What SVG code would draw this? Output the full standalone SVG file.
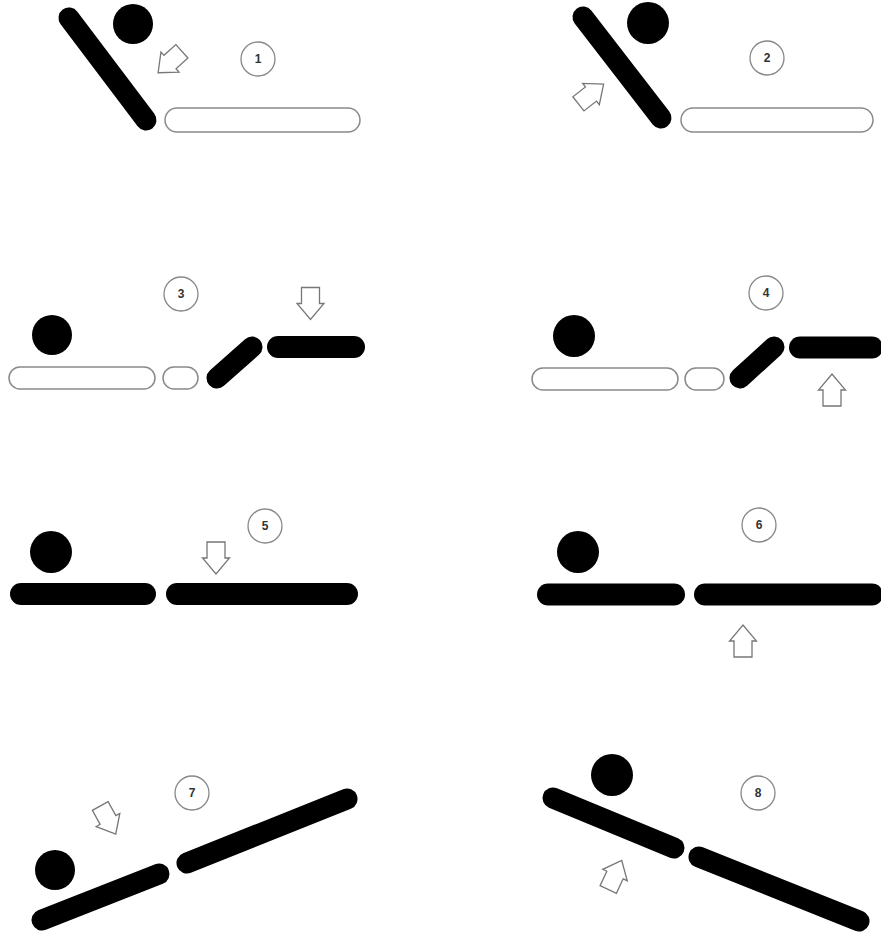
<svg xmlns="http://www.w3.org/2000/svg" xmlns:xlink="http://www.w3.org/1999/xlink" width="881" height="936" viewBox="0 0 881 936">
<style>
.bar{stroke:#000;stroke-linecap:round;fill:none}
.d{stroke-width:21}
.h{stroke-width:22}
.ball{fill:#000}
.pad{fill:#fff;stroke:#8a8a8a;stroke-width:1.5}
.num circle{fill:#fff;stroke:#888;stroke-width:1.3}
.num text{font-family:"Liberation Sans",Arial,sans-serif;font-size:12px;font-weight:bold;fill:#333;text-anchor:middle;dominant-baseline:central}
.arr{fill:#fff;stroke:#777;stroke-width:1.3;stroke-linejoin:miter}
</style>
<defs>
<polygon id="arr" class="arr" points="-9,16 9,16 9,0 13.5,0 0,-16 -13.5,0 -9,0"/>
</defs>
<rect width="881" height="936" fill="#fff"/>

<g id="panel1">
<line class="bar d" x1="69" y1="18" x2="146" y2="120"/>
<circle class="ball" cx="133" cy="24" r="20"/>
<use href="#arr" transform="translate(170,62) rotate(-132)"/>
<rect class="pad" x="165" y="108" width="195" height="24" rx="12"/>
<g class="num"><circle cx="258" cy="59" r="17"/><text x="258" y="59">1</text></g>
</g>

<g id="panel2">
<line class="bar d" x1="583" y1="17" x2="661" y2="118"/>
<circle class="ball" cx="648" cy="23" r="21"/>
<use href="#arr" transform="translate(591,94) rotate(52)"/>
<rect class="pad" x="681" y="108" width="192" height="24" rx="12"/>
<g class="num"><circle cx="767" cy="58" r="17"/><text x="767" y="58">2</text></g>
</g>

<g id="panel3">
<g class="num"><circle cx="181" cy="294" r="17"/><text x="181" y="294">3</text></g>
<use href="#arr" transform="translate(310.5,303.5) rotate(180)"/>
<circle class="ball" cx="52" cy="335" r="20"/>
<rect class="pad" x="9" y="367" width="146" height="22" rx="11"/>
<rect class="pad" x="163" y="367" width="35" height="22" rx="11"/>
<line class="bar d" x1="217" y1="378" x2="252" y2="347"/>
<line class="bar h" x1="278" y1="347" x2="354" y2="347"/>
</g>

<g id="panel4">
<g class="num"><circle cx="766" cy="293" r="17"/><text x="766" y="293">4</text></g>
<circle class="ball" cx="574" cy="336" r="21"/>
<rect class="pad" x="532" y="368" width="146" height="22" rx="11"/>
<rect class="pad" x="685" y="368" width="39" height="22" rx="11"/>
<line class="bar d" x1="740" y1="378" x2="774" y2="347"/>
<line class="bar h" x1="800" y1="347.5" x2="872" y2="347.5"/>
<use href="#arr" transform="translate(832,390)"/>
</g>

<g id="panel5">
<g class="num"><circle cx="265" cy="526" r="17"/><text x="265" y="526">5</text></g>
<circle class="ball" cx="51" cy="552" r="21"/>
<use href="#arr" transform="translate(216,558) rotate(180)"/>
<line class="bar h" x1="21" y1="594" x2="145" y2="594"/>
<line class="bar h" x1="177" y1="594" x2="347" y2="594"/>
</g>

<g id="panel6">
<g class="num"><circle cx="759" cy="525" r="17"/><text x="759" y="525">6</text></g>
<circle class="ball" cx="578" cy="552" r="21"/>
<line class="bar h" x1="548" y1="594.5" x2="674" y2="594.5"/>
<line class="bar h" x1="705" y1="594.5" x2="872" y2="594.5"/>
<use href="#arr" transform="translate(743,641)"/>
</g>

<g id="panel7">
<g class="num"><circle cx="192" cy="793" r="17"/><text x="192" y="793">7</text></g>
<use href="#arr" transform="translate(108,820) rotate(151)"/>
<circle class="ball" cx="55" cy="870" r="20"/>
<line class="bar d" x1="42" y1="920" x2="159" y2="874"/>
<line class="bar d" x1="187" y1="863" x2="347" y2="799"/>
</g>

<g id="panel8">
<g class="num"><circle cx="758" cy="793" r="17"/><text x="758" y="793">8</text></g>
<circle class="ball" cx="612" cy="775" r="21"/>
<line class="bar d" x1="553" y1="798" x2="674" y2="848"/>
<line class="bar d" x1="699" y1="857" x2="859" y2="921"/>
<use href="#arr" transform="translate(615,875) rotate(25)"/>
</g>
</svg>
